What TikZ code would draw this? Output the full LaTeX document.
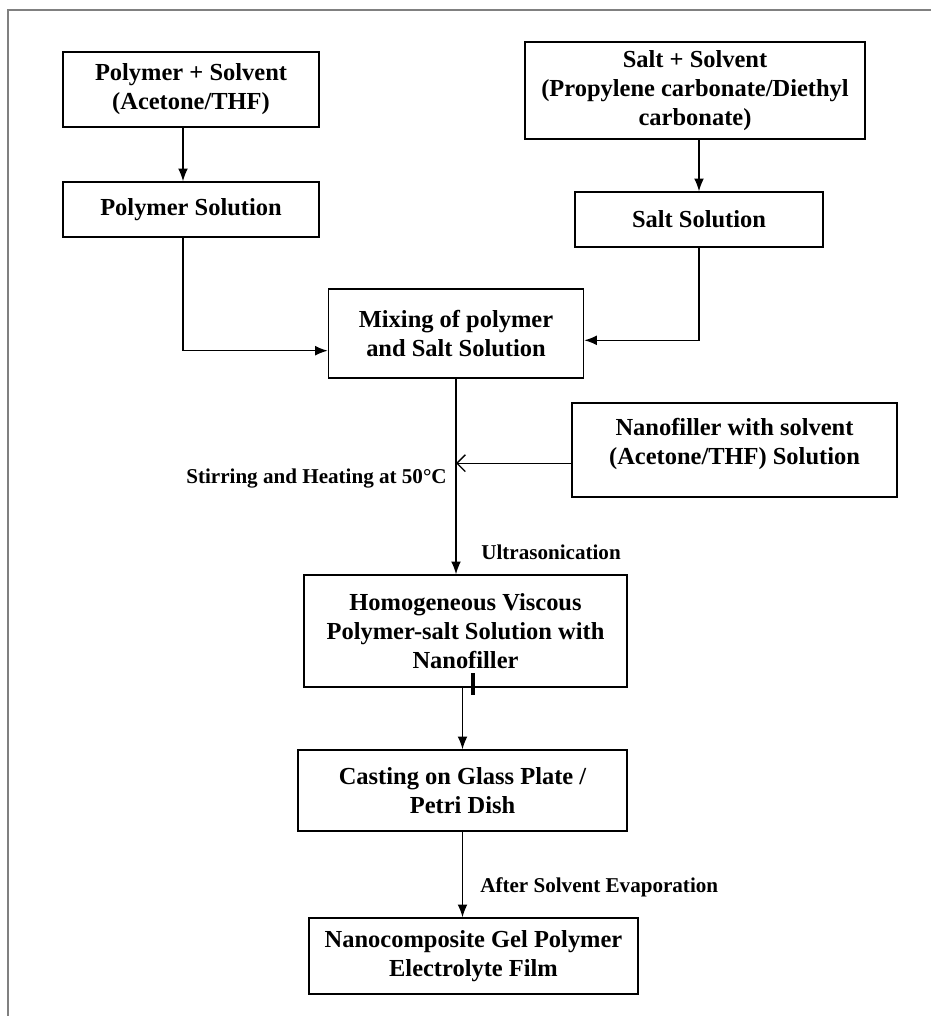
\documentclass[tikz,border=0pt]{standalone}
\usepackage{fontspec}
\usepackage{tikz}
\usetikzlibrary{arrows.meta}
\setmainfont{Liberation Serif}
\newcommand{\boxfont}{\fontsize{17.4}{20.6}\selectfont\bfseries}
\newcommand{\labfont}{\fontsize{15}{18}\selectfont\bfseries}

\begin{document}
\begin{tikzpicture}[x=0.025cm, y=-0.025cm,
	procbox/.style={draw, line width=1.1pt, align=center, inner sep=0pt, font=\boxfont},
	flow/.style={-{Latex[length=9pt,width=7pt]}, line width=0.9pt},
	feed/.style={-{Straight Barb[length=6pt,width=12pt]}, line width=0.9pt},
	steplabel/.style={font=\labfont, inner sep=0pt}]
	\useasboundingbox (0,0) rectangle (930,1016);
	\draw [gray, line width=1.5pt] (8,1020) -- (8,10) -- (935,10);

	% left branch
	\node [procbox, minimum width=6.4cm, minimum height=1.875cm] (polysolv) at (191, 89.5) {Polymer + Solvent\\(Acetone/THF)};
	\node [procbox, minimum width=6.4cm, minimum height=1.375cm] (polysol) at (191, 209.5) {Polymer Solution};

	% right branch
	\node [procbox, minimum width=8.5cm, minimum height=2.425cm] (saltsolv) at (695, 90.5) {Salt + Solvent\\(Propylene carbonate/Diethyl\\carbonate)};
	\node [procbox, minimum width=6.2cm, minimum height=1.375cm] (saltsol) at (699, 219.5) {Salt Solution};

	\node [procbox, minimum width=6.375cm, minimum height=2.225cm] (mixing) at (456, 333.5) {Mixing of polymer\\and Salt Solution};
	\node [procbox, minimum width=8.125cm, minimum height=2.35cm] (nanofil) at (734.5, 450) {Nanofiller with solvent\\(Acetone/THF) Solution\\[-8pt]\mbox{}};

	\node [procbox, minimum width=8.075cm, minimum height=2.8cm] (homog) at (465.5, 631) {Homogeneous Viscous\\Polymer-salt Solution with\\Nanofiller};
	\node [procbox, minimum width=8.225cm, minimum height=2.025cm] (casting) at (462.5, 790.5) {Casting on Glass Plate /\\Petri Dish};
	\node [procbox, minimum width=8.225cm, minimum height=1.9cm] (film) at (473.5, 956) {Nanocomposite Gel Polymer\\Electrolyte Film};

	% labels
	\node [steplabel] (stir) at (316.5, 479) {Stirring and Heating at 50°C};
	\node [steplabel, anchor=west] (ultra) at (481, 552) {Ultrasonication};
	\node [steplabel, anchor=west] (evap) at (480, 887) {After Solvent Evaporation};

	% connectors
	\draw [flow] ([xshift=-0.2cm]polysolv.south) -- ([xshift=-0.2cm]polysol.north);
	\draw [flow] (saltsolv.south -| saltsol.north) -- (saltsol.north);
	\draw [flow] ([xshift=-0.2cm]polysol.south) |- ([yshift=-0.43cm]mixing.west);
	\draw [flow] (saltsol.south) |- ([yshift=-0.17cm]mixing.east);
	\draw [flow] (mixing.south) -- (mixing.south |- homog.north);
	\draw [feed] ([yshift=-0.33cm]nanofil.west) coordinate (nf) -- (nf -| mixing.south);
	\draw [flow] (casting.north |- homog.south) -- (casting.north);
	\draw [flow] (casting.south) -- (casting.south |- film.north);
	\draw [line width=2.2pt] (473, 673) -- (473, 695);

\end{tikzpicture}
\end{document}
